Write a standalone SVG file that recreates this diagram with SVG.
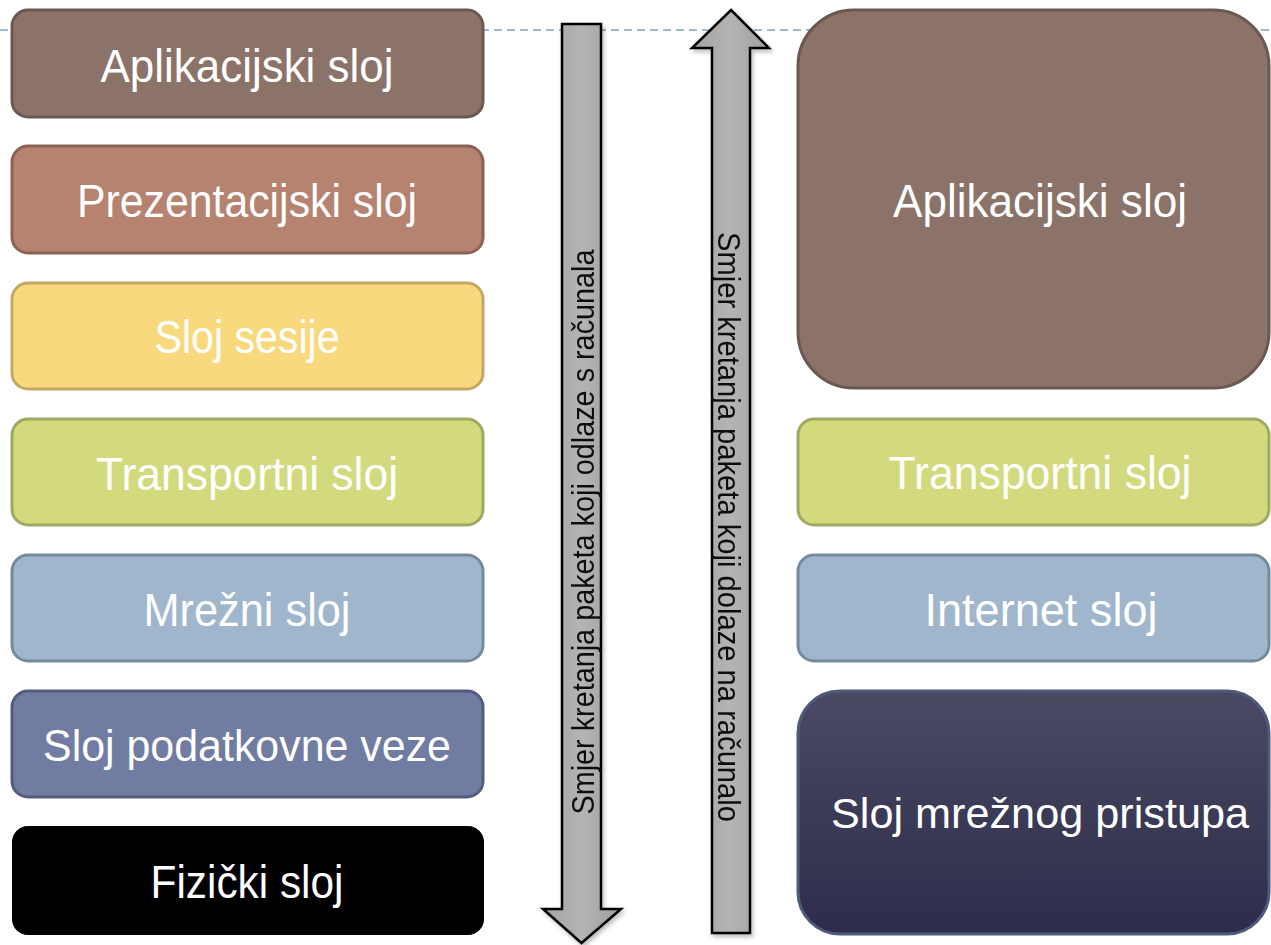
<svg xmlns="http://www.w3.org/2000/svg" width="1271" height="945" viewBox="0 0 1271 945">
<defs>
<linearGradient id="arrowGrad" x1="0" y1="0" x2="1" y2="0">
<stop offset="0" stop-color="#a2a2a2"/>
<stop offset="0.5" stop-color="#b4b4b4"/>
<stop offset="1" stop-color="#9e9e9e"/>
</linearGradient>
<linearGradient id="accessGrad" x1="0" y1="0" x2="0" y2="1">
<stop offset="0" stop-color="#4b4a63"/>
<stop offset="1" stop-color="#2d2c4b"/>
</linearGradient>
<filter id="shadow" x="-20%" y="-5%" width="140%" height="110%">
<feGaussianBlur in="SourceAlpha" stdDeviation="2"/>
<feOffset dx="2" dy="3" result="b"/>
<feComponentTransfer><feFuncA type="linear" slope="0.25"/></feComponentTransfer>
<feMerge><feMergeNode/><feMergeNode in="SourceGraphic"/></feMerge>
</filter>
</defs>
<style>
.box{stroke-width:3}
.lbl{font-family:"Liberation Sans",Arial,sans-serif;font-size:47px;fill:#ffffff;text-anchor:middle}
.arrow{fill:url(#arrowGrad);stroke:#000;stroke-width:2.5;stroke-linejoin:miter}
.vt{font-family:"Liberation Sans",Arial,sans-serif;font-size:31px;fill:#111;text-anchor:middle}
</style>
<rect width="1271" height="945" fill="#ffffff"/>
<line x1="0" y1="30" x2="1271" y2="30" stroke="#9fb8cc" stroke-width="2" stroke-dasharray="8 5"/>

<g id="left-app">
<rect class="box" x="12" y="10" width="471" height="107" rx="16" fill="#8c736a" stroke="#6b5850"/>
<text class="lbl" x="247" y="82" textLength="293" lengthAdjust="spacingAndGlyphs">Aplikacijski sloj</text>
</g>
<g id="left-pres">
<rect class="box" x="12" y="146" width="471" height="107" rx="16" fill="#b58370" stroke="#8c6255"/>
<text class="lbl" x="247" y="217" textLength="340" lengthAdjust="spacingAndGlyphs">Prezentacijski sloj</text>
</g>
<g id="left-session">
<rect class="box" x="12" y="283" width="471" height="106" rx="16" fill="#f9d97e" stroke="#c2a862"/>
<text class="lbl" x="247" y="353" textLength="185" lengthAdjust="spacingAndGlyphs">Sloj sesije</text>
</g>
<g id="left-transport">
<rect class="box" x="12" y="419" width="471" height="106" rx="16" fill="#d3da7e" stroke="#a0a862"/>
<text class="lbl" x="247" y="490" textLength="302" lengthAdjust="spacingAndGlyphs">Transportni sloj</text>
</g>
<g id="left-network">
<rect class="box" x="12" y="555" width="471" height="106" rx="16" fill="#a0b6cc" stroke="#768a9e"/>
<text class="lbl" x="247" y="626" textLength="207" lengthAdjust="spacingAndGlyphs">Mrežni sloj</text>
</g>
<g id="left-datalink">
<rect class="box" x="12" y="691" width="471" height="106" rx="16" fill="#717ca3" stroke="#525c7e"/>
<text class="lbl" x="247" y="761" textLength="408" lengthAdjust="spacingAndGlyphs" style="font-size:45px">Sloj podatkovne veze</text>
</g>
<g id="left-physical">
<rect x="12" y="826" width="472" height="109" rx="16" fill="#000000"/>
<text class="lbl" x="247" y="898" textLength="193" lengthAdjust="spacingAndGlyphs">Fizički sloj</text>
</g>

<g id="right-app">
<rect class="box" x="798" y="10" width="471" height="378" rx="56" fill="#8c736a" stroke="#6b5850"/>
<text class="lbl" x="1040" y="217" textLength="294" lengthAdjust="spacingAndGlyphs">Aplikacijski sloj</text>
</g>
<g id="right-transport">
<rect class="box" x="798" y="419" width="471" height="106" rx="16" fill="#d3da7e" stroke="#a0a862"/>
<text class="lbl" x="1040" y="489" textLength="303" lengthAdjust="spacingAndGlyphs">Transportni sloj</text>
</g>
<g id="right-internet">
<rect class="box" x="798" y="555" width="471" height="106" rx="16" fill="#a0b6cc" stroke="#768a9e"/>
<text class="lbl" x="1041" y="626" textLength="233" lengthAdjust="spacingAndGlyphs">Internet sloj</text>
</g>
<g id="right-access">
<rect class="box" x="798" y="691" width="471" height="243" rx="42" fill="url(#accessGrad)" stroke="#4e5a7c"/>
<text class="lbl" x="1040" y="828" textLength="418" lengthAdjust="spacingAndGlyphs" style="font-size:43px">Sloj mrežnog pristupa</text>
</g>

<g id="connectors">
<g id="arrow-out" filter="url(#shadow)">
<path class="arrow" d="M562,24 L601,24 L601,909 L621,909 L581.5,943 L543,909 L562,909 Z"/>
<text class="vt" transform="translate(594,532) rotate(-90)" x="0" y="0" textLength="565" lengthAdjust="spacingAndGlyphs">Smjer kretanja paketa koji odlaze s računala</text>
</g>
<g id="arrow-in" filter="url(#shadow)">
<path class="arrow" d="M731,10 L769,48 L750,48 L750,933 L712,933 L712,48 L692,48 Z"/>
<text class="vt" transform="translate(718,527) rotate(90)" x="0" y="0" textLength="590" lengthAdjust="spacingAndGlyphs">Smjer kretanja paketa koji dolaze na računalo</text>
</g>
</g>
</svg>
